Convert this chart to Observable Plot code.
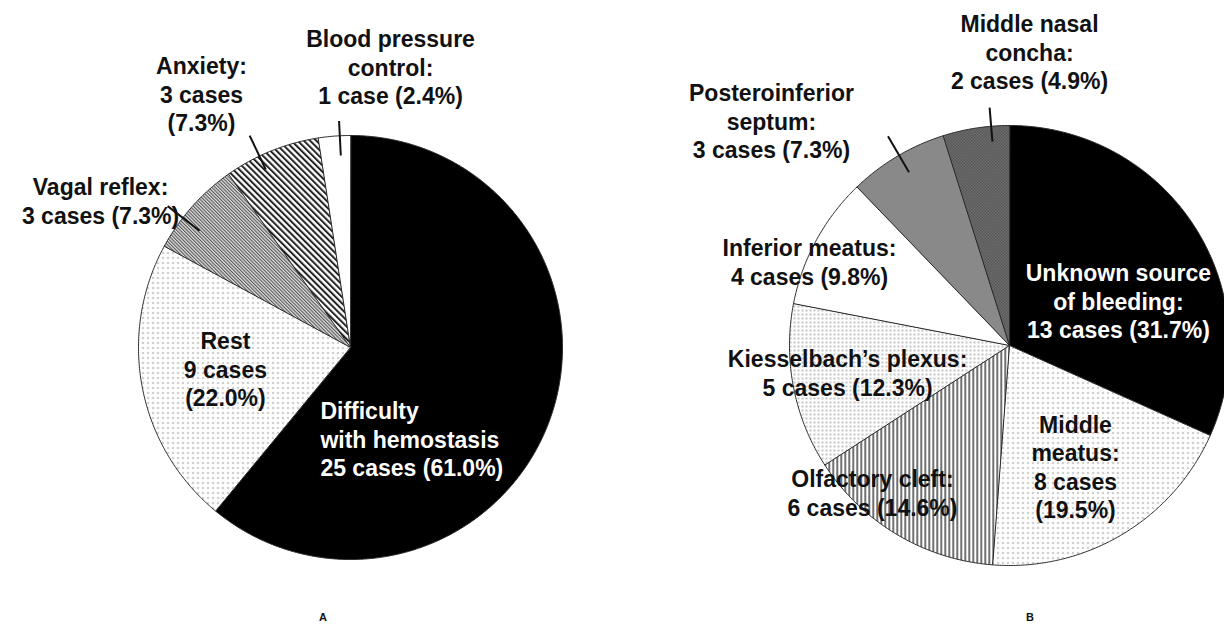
<!DOCTYPE html>
<html><head><meta charset="utf-8">
<script src="https://cdn.jsdelivr.net/npm/d3@7"></script>
<script src="https://cdn.jsdelivr.net/npm/@observablehq/plot@0.6"></script>
<style>
body{margin:0;background:#fff;}
#wrap{position:relative;width:1224px;height:625px;overflow:hidden;background:#fff;font-family:"Liberation Sans",Arial,sans-serif;}
.panel{position:absolute;top:0;}
.cap{position:absolute;font-size:11px;font-weight:bold;top:611px;transform:translateX(-50%);color:#111;}
</style></head><body>
<svg width="0" height="0" style="position:absolute">
<defs>
<pattern id="pDotsA" width="5" height="5" patternUnits="userSpaceOnUse"><rect width="5" height="5" fill="#fff"/><circle cx="2.5" cy="2.5" r="0.8" fill="#777"/></pattern>
<pattern id="pDotsB" width="4" height="4" patternUnits="userSpaceOnUse"><rect width="4" height="4" fill="#fff"/><circle cx="2" cy="2" r="0.8" fill="#777"/></pattern>
<pattern id="pFine" width="2.4" height="2.4" patternUnits="userSpaceOnUse" patternTransform="rotate(-45)"><rect width="2.4" height="2.4" fill="#e0e0e0"/><rect width="1.1" height="2.4" fill="#555"/></pattern>
<pattern id="pStripe" width="4.4" height="4.4" patternUnits="userSpaceOnUse" patternTransform="rotate(-45)"><rect width="4.4" height="4.4" fill="#fff"/><rect width="2" height="4.4" fill="#222"/></pattern>
<pattern id="pVert" width="4" height="4" patternUnits="userSpaceOnUse"><rect width="4" height="4" fill="#fff"/><rect width="1.4" height="4" fill="#333"/></pattern>
<pattern id="pGrey" width="2" height="2" patternUnits="userSpaceOnUse"><rect width="2" height="2" fill="#9a9a9a"/><rect width="1" height="1" fill="#777"/><rect x="1" y="1" width="1" height="1" fill="#777"/></pattern>
<pattern id="pDark" width="3" height="3" patternUnits="userSpaceOnUse"><rect width="3" height="3" fill="#8a8a8a"/><rect width="1.5" height="1.5" fill="#3a3a3a"/><rect x="1.5" y="1.5" width="1.5" height="1.5" fill="#3a3a3a"/></pattern>
</defs></svg>
<div id="wrap"></div>
<script>
// ---- Data: panel A (reasons) ----
const categoriesA = ["Difficulty with hemostasis", "Rest", "Vagal reflex", "Anxiety", "Blood pressure control"];
const casesA = [25, 9, 3, 3, 1];
const labelsA = [
  "Difficulty\nwith hemostasis\n25 cases (61.0%)",
  "Rest\n9 cases\n(22.0%)",
  "Vagal reflex:\n3 cases (7.3%)",
  "Anxiety:\n3 cases\n(7.3%)",
  "Blood pressure\ncontrol:\n1 case (2.4%)"
];
// ---- Data: panel B (sources) ----
const categoriesB = ["Unknown source of bleeding", "Middle meatus", "Olfactory cleft", "Kiesselbach's plexus", "Inferior meatus", "Posteroinferior septum", "Middle nasal concha"];
const casesB = [13, 8, 6, 5, 4, 3, 2];
const labelsB = [
  "Unknown source\nof bleeding:\n13 cases (31.7%)",
  "Middle\nmeatus:\n8 cases\n(19.5%)",
  "Olfactory cleft:\n6 cases (14.6%)",
  "Kiesselbach\u2019s plexus:\n5 cases (12.3%)",
  "Inferior meatus:\n4 cases (9.8%)",
  "Posteroinferior\nseptum:\n3 cases (7.3%)",
  "Middle nasal\nconcha:\n2 cases (4.9%)"
];
const panelNames = ["A", "B"];

// ---- Styles / layout (kept apart from data) ----
const fillsA = ["#000", "url(#pDotsA)", "url(#pFine)", "url(#pStripe)", "#fff"];
const textColA = ["#fff", "#111", "#111", "#111", "#111"];
const fillsB = ["#000", "url(#pDotsA)", "url(#pVert)", "url(#pDotsB)", "#fff", "url(#pGrey)", "url(#pDark)"];
const textColB = ["#fff", "#111", "#111", "#111", "#111", "#111", "#111"];
// label anchors in pie-radius units relative to the centre (y up)
const labelPosA = [[-0.142, -0.429, "start"], [-0.590, -0.099], [-1.179, 0.693], [-0.703, 1.198], [0.189, 1.325]];
const labelPosB = [[0.495, 0.205], [0.300, -0.550], [-0.623, -0.668], [-0.736, -0.123], [-0.909, 0.382], [-1.082, 1.023], [0.091, 1.336]];
// leader lines: slice index, angle tweak (deg), inner & outer radius
const leadersA = [[2, -4, 0.90, 1.09], [3, -3.5, 0.93, 1.107], [4, 1.5, 0.907, 1.07]];
const leadersB = [[5, 0.6, 0.91, 1.10], [6, 4, 0.93, 1.085]];

function pie(values) {
  return d3.pie().sort(null).value(d => d)(values).map((a, i) => {
    const pts = [{x: 0, y: 0}];
    const n = Math.max(4, Math.ceil((a.endAngle - a.startAngle) / 0.008));
    for (let k = 0; k <= n; ++k) {
      const t = a.startAngle + (a.endAngle - a.startAngle) * k / n;
      pts.push({x: Math.sin(t), y: Math.cos(t)});
    }
    return {i, pts, mid: (a.startAngle + a.endAngle) / 2};
  });
}

function makePie({values, labels, fills, textCols, labelPos, leaders, width, cx, cy, r}) {
  const H = 625;
  const slices = pie(values);
  const marks = slices.map(s => Plot.line(s.pts, {x: "x", y: "y", curve: "linear-closed", fill: fills[s.i], stroke: "#2a2a2a", strokeWidth: 1}));
  const lk = leaders.map(([i, da, r0, r1]) => {
    const t = slices[i].mid + da * Math.PI / 180;
    return {x1: r0 * Math.sin(t), y1: r0 * Math.cos(t), x2: r1 * Math.sin(t), y2: r1 * Math.cos(t)};
  });
  marks.push(Plot.link(lk, {x1: "x1", y1: "y1", x2: "x2", y2: "y2", stroke: "#111", strokeWidth: 2}));
  const tx = labels.map((t, i) => ({text: t, x: labelPos[i][0], y: labelPos[i][1], anchor: labelPos[i][2] || "middle", col: textCols[i]}));
  for (const anchor of ["middle", "start"]) {
    marks.push(Plot.text(tx, {filter: d => d.anchor === anchor, x: "x", y: "y", text: "text", fill: "col", textAnchor: anchor, lineAnchor: "middle", lineHeight: 1.24, fontSize: 23, fontWeight: "bold"}));
  }
  return Plot.plot({
    width, height: H, margin: 0,
    x: {domain: [-cx / r, (width - cx) / r], axis: null},
    y: {domain: [-(H - cy) / r, cy / r], axis: null},
    color: {type: "identity"},
    style: {background: "transparent", fontFamily: "'Liberation Sans', Arial, sans-serif", overflow: "visible"},
    marks
  });
}

const wrap = document.getElementById("wrap");
const a = makePie({values: casesA, labels: labelsA, fills: fillsA, textCols: textColA, labelPos: labelPosA, leaders: leadersA, width: 660, cx: 350, cy: 347, r: 212});
a.classList.add("panel"); a.style.left = "0px";
const b = makePie({values: casesB, labels: labelsB, fills: fillsB, textCols: textColB, labelPos: labelPosB, leaders: leadersB, width: 564, cx: 349, cy: 345, r: 220});
b.classList.add("panel"); b.style.left = "660px";
wrap.append(a, b);
[[panelNames[0], 323], [panelNames[1], 1030]].forEach(([t, x]) => {
  const d = document.createElement("div"); d.className = "cap"; d.textContent = t; d.style.left = x + "px"; wrap.append(d);
});
</script>
</body></html>
